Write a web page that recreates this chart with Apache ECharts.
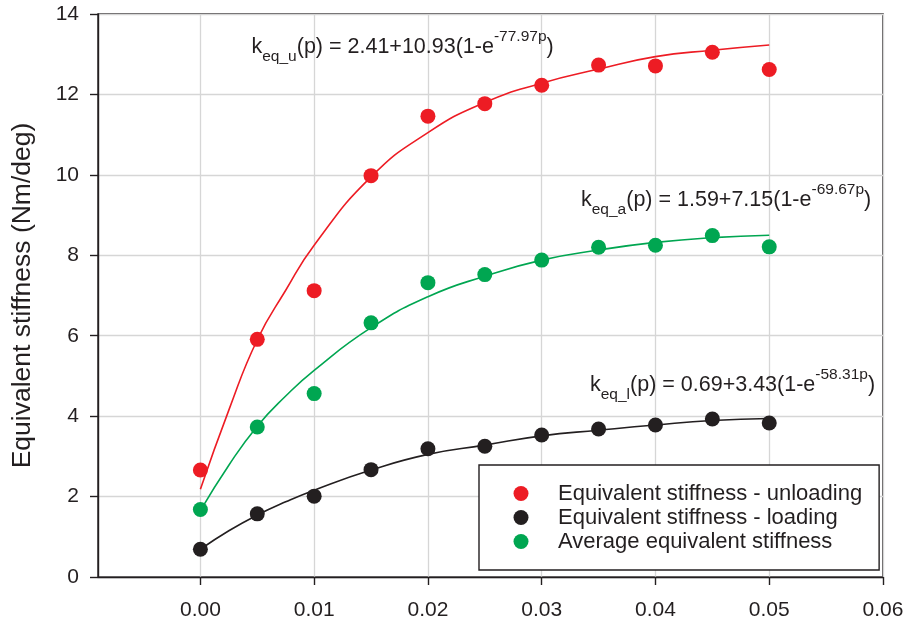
<!DOCTYPE html>
<html>
<head>
<meta charset="utf-8">
<script src="https://cdn.jsdelivr.net/npm/echarts@6/dist/echarts.min.js"></script>
<style>
html,body{margin:0;padding:0;background:#fff;}
#chart{width:910px;height:626px;}
</style>
</head>
<body>
<div id="chart"></div>
<script>
// ---- data ----
var pressure = [0.000, 0.005, 0.010, 0.015, 0.020, 0.025, 0.030, 0.035, 0.040, 0.045, 0.050];
var stiffUnloading = [2.66, 5.91, 7.12, 9.98, 11.46, 11.77, 12.23, 12.73, 12.71, 13.05, 12.62];
var stiffLoading   = [0.69, 1.57, 2.01, 2.67, 3.19, 3.25, 3.53, 3.68, 3.78, 3.93, 3.83];
var stiffAverage   = [1.68, 3.73, 4.56, 6.32, 7.32, 7.52, 7.88, 8.20, 8.25, 8.49, 8.21];

// fitted curves
var fitX           = [0.000, 0.0025, 0.005, 0.0075, 0.010, 0.015, 0.020, 0.025, 0.030, 0.035, 0.040, 0.045, 0.050];
var fitUnloading   = [2.18, 4.15, 5.90, 7.13, 8.25, 9.95, 11.05, 11.80, 12.28, 12.63, 12.94, 13.10, 13.23];
var fitLoading     = [0.69, 1.15, 1.54, 1.87, 2.16, 2.66, 3.05, 3.28, 3.51, 3.65, 3.78, 3.89, 3.94];
var fitAverage     = [1.65, 2.78, 3.75, 4.50, 5.14, 6.20, 6.97, 7.48, 7.88, 8.13, 8.32, 8.44, 8.50];

// x tick labels
var xTicks = [0.00, 0.01, 0.02, 0.03, 0.04, 0.05, 0.06];

var seriesNames = ['Equivalent stiffness - unloading', 'Equivalent stiffness - loading', 'Average equivalent stiffness'];
var yTitle = 'Equivalent stiffness (Nm/deg)';
var eqU = {k: 'eq_u', body: '(p) = 2.41+10.93(1-e', exp: '-77.97p'};
var eqA = {k: 'eq_a', body: '(p) = 1.59+7.15(1-e', exp: '-69.67p'};
var eqL = {k: 'eq_l', body: '(p) = 0.69+3.43(1-e', exp: '-58.31p'};

// ---- styling ----
var FONT = '"Liberation Sans", Arial, sans-serif';
var INK = '#231F20';
var RED = '#ED1C24';
var BLACK = '#231F20';
var GREEN = '#00A651';

function zip(xs, ys) { return xs.map(function (x, i) { return [x, ys[i]]; }); }

function eqText(eq) {
  return '{m|k}{s|' + eq.k + '}{m|' + eq.body + '}{u|' + eq.exp + '}{m|)}';
}
var eqRich = {
  m: {fontSize: 21.5, lineHeight: 36, verticalAlign: 'middle', fontFamily: FONT, fill: INK, color: INK},
  s: {fontSize: 15.5, lineHeight: 14, verticalAlign: 'bottom', fontFamily: FONT, fill: INK, color: INK},
  u: {fontSize: 15.5, lineHeight: 14, verticalAlign: 'top', fontFamily: FONT, fill: INK, color: INK}
};
function eqGraphic(eq, x, y) {
  return {
    type: 'text', x: x, y: y, z: 50,
    style: {text: eqText(eq), rich: eqRich, fontFamily: FONT, fontSize: 21.5, fill: INK,
            align: 'left', verticalAlign: 'middle'}
  };
}

function scatter(name, data, color) {
  return {
    name: name, type: 'scatter', data: data, symbol: 'circle', symbolSize: 15,
    itemStyle: {color: color, opacity: 1}, z: 5
  };
}
function fit(data, color) {
  return {
    type: 'line', data: data, smooth: 0.5, showSymbol: false, symbol: 'none',
    lineStyle: {color: color, width: 1.6}, silent: true, z: 3
  };
}

var chart = echarts.init(document.getElementById('chart'), null, {renderer: 'canvas'});
chart.setOption({
  animation: false,
  backgroundColor: '#fff',
  textStyle: {fontFamily: FONT, color: INK},
  grid: {left: 98, right: 27, top: 14, bottom: 49, show: true, borderColor: INK, borderWidth: 1.4, backgroundColor: 'transparent'},
  xAxis: {
    type: 'value', min: -0.009, max: 0.06, minInterval: 0.01, maxInterval: 0.01,
    axisLine: {onZero: false, lineStyle: {color: INK, width: 1.4}},
    axisTick: {show: true, inside: false, length: 8, customValues: xTicks, lineStyle: {color: INK, width: 1.4}},
    axisLabel: {show: true, customValues: xTicks, margin: 23, fontSize: 21, color: INK, fontFamily: FONT,
                formatter: function (v) { return Number(v).toFixed(2); }},
    splitLine: {show: true, lineStyle: {color: '#d6d6d6', width: 1.3}}
  },
  yAxis: {
    type: 'value', min: 0, max: 14, interval: 2,
    name: yTitle, nameLocation: 'middle', nameRotate: 90, nameGap: 62,
    nameTextStyle: {fontSize: 26.5, color: INK, fontFamily: FONT},
    axisLine: {onZero: false, lineStyle: {color: INK, width: 1.4}},
    axisTick: {show: true, inside: false, length: 8, lineStyle: {color: INK, width: 1.4}},
    axisLabel: {margin: 19, fontSize: 21, color: INK, fontFamily: FONT},
    splitLine: {show: true, lineStyle: {color: '#d6d6d6', width: 1.3}}
  },
  legend: {
    data: seriesNames.map(function (n) { return {name: n, icon: 'circle'}; }),
    orient: 'vertical', left: 479, top: 465,
    backgroundColor: '#fff', borderColor: INK, borderWidth: 1.4, borderRadius: 0,
    padding: [17.5, 17, 17.5, 34.5], itemWidth: 15, itemHeight: 15, itemGap: 2,
    textStyle: {fontSize: 22, lineHeight: 22, color: INK, fontFamily: FONT, padding: [0, 0, 0, 24.5]},
    selectedMode: false, z: 20
  },
  graphic: [
    eqGraphic(eqU, 251.5, 47),
    eqGraphic(eqA, 581, 200),
    eqGraphic(eqL, 590, 385)
  ],
  series: [
    fit(zip(fitX, fitUnloading), RED),
    fit(zip(fitX, fitLoading), BLACK),
    fit(zip(fitX, fitAverage), GREEN),
    scatter(seriesNames[0], zip(pressure, stiffUnloading), RED),
    scatter(seriesNames[1], zip(pressure, stiffLoading), BLACK),
    scatter(seriesNames[2], zip(pressure, stiffAverage), GREEN)
  ]
});
</script>
</body>
</html>
